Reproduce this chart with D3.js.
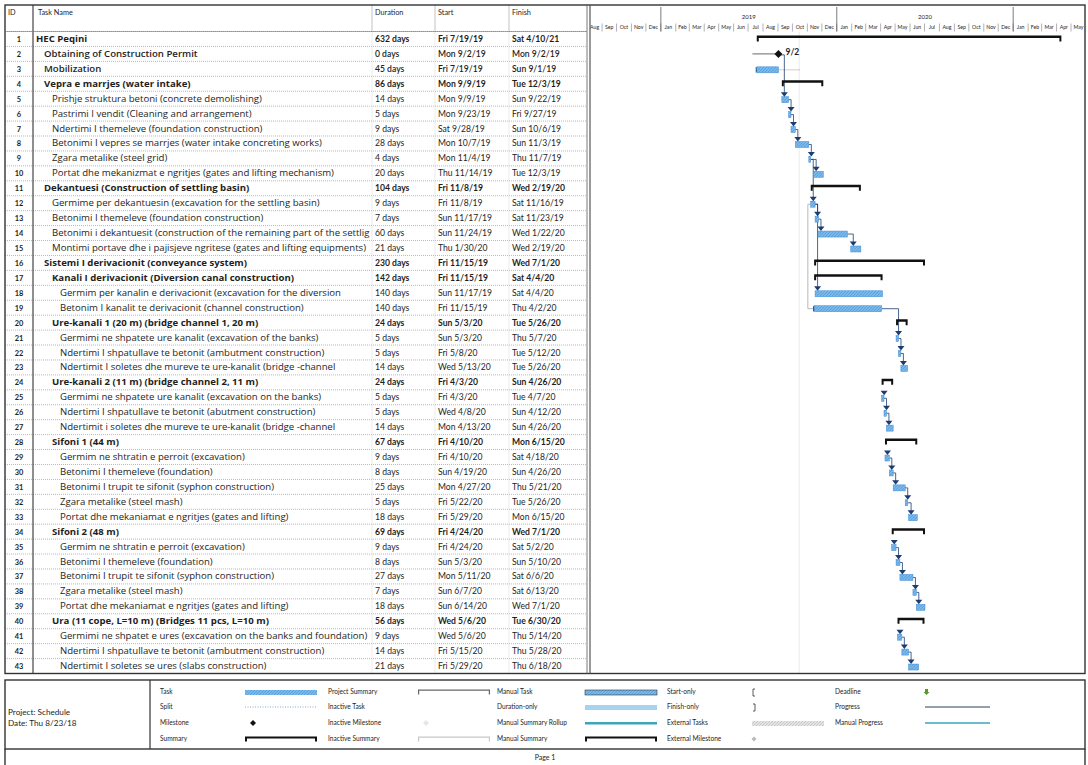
<!DOCTYPE html>
<html>
<head>
<meta charset="utf-8">
<script src="https://cdn.jsdelivr.net/npm/d3@7"></script>
<style>
  body { margin: 0; background: #fff; }
  svg text { font-family: Lato, "Open Sans", sans-serif; fill: #1e1e1e; }
  svg text.tname { font-family: "Open Sans", Lato, sans-serif; }
</style>
</head>
<body>
<svg id="chart" width="1088" height="765"></svg>
<script>
// MS Project print-out: HEC Peqini schedule (table + Gantt + legend)

const taskIds = d3.range(1, 44);

const taskNames = [
  "HEC Peqini",
  "Obtaining of Construction Permit",
  "Mobilization",
  "Vepra e marrjes (water intake)",
  "Prishje struktura betoni (concrete demolishing)",
  "Pastrimi I vendit (Cleaning and arrangement)",
  "Ndertimi I themeleve (foundation construction)",
  "Betonimi I vepres se marrjes (water intake concreting works)",
  "Zgara metalike (steel grid)",
  "Portat dhe mekanizmat e ngritjes (gates and lifting mechanism)",
  "Dekantuesi (Construction of settling basin)",
  "Germime per dekantuesin (excavation for the settling basin)",
  "Betonimi I themeleve (foundation construction)",
  "Betonimi i dekantuesit (construction of the remaining part of the settlig",
  "Montimi portave dhe i pajisjeve ngritese (gates and lifting equipments)",
  "Sistemi I derivacionit (conveyance system)",
  "Kanali I derivacionit (Diversion canal construction)",
  "Germim per kanalin e derivacionit (excavation for the diversion",
  "Betonim I kanalit te derivacionit (channel construction)",
  "Ure-kanali 1 (20 m) (bridge channel 1, 20 m)",
  "Germimi ne shpatete ure kanalit (excavation of the banks)",
  "Ndertimi I shpatullave te betonit (ambutment construction)",
  "Ndertimit I soletes dhe mureve te ure-kanalit (bridge -channel",
  "Ure-kanali 2 (11 m) (bridge channel 2, 11 m)",
  "Germimi ne shpatete ure kanalit (excavation on the banks)",
  "Ndertimi I shpatullave te betonit (abutment construction)",
  "Ndertimit i soletes dhe mureve te ure-kanalit (bridge -channel",
  "Sifoni 1 (44 m)",
  "Germim ne shtratin e perroit (excavation)",
  "Betonimi I themeleve (foundation)",
  "Betonimi I trupit te sifonit (syphon construction)",
  "Zgara metalike (steel mash)",
  "Portat dhe mekaniamat e ngritjes (gates and lifting)",
  "Sifoni 2 (48 m)",
  "Germim ne shtratin e perroit (excavation)",
  "Betonimi I themeleve (foundation)",
  "Betonimi I trupit te sifonit (syphon construction)",
  "Zgara metalike (steel mash)",
  "Portat dhe mekaniamat e ngritjes (gates and lifting)",
  "Ura (11 cope, L=10 m) (Bridges 11 pcs, L=10 m)",
  "Germimi ne shpatet e ures (excavation on the banks and foundation)",
  "Ndertimi I shpatullave te betonit (ambutment construction)",
  "Ndertimit I soletes se ures (slabs construction)"
];

const durations = [
  "632 days", "0 days", "45 days", "86 days", "14 days", "5 days", "9 days", "28 days",
  "4 days", "20 days", "104 days", "9 days", "7 days", "60 days", "21 days", "230 days",
  "142 days", "140 days", "140 days", "24 days", "5 days", "5 days", "14 days", "24 days",
  "5 days", "5 days", "14 days", "67 days", "9 days", "8 days", "25 days", "5 days",
  "18 days", "69 days", "9 days", "8 days", "27 days", "7 days", "18 days", "56 days",
  "9 days", "14 days", "21 days"
];

const startDates = [
  "Fri 7/19/19", "Mon 9/2/19", "Fri 7/19/19", "Mon 9/9/19", "Mon 9/9/19", "Mon 9/23/19",
  "Sat 9/28/19", "Mon 10/7/19", "Mon 11/4/19", "Thu 11/14/19", "Fri 11/8/19", "Fri 11/8/19",
  "Sun 11/17/19", "Sun 11/24/19", "Thu 1/30/20", "Fri 11/15/19", "Fri 11/15/19", "Sun 11/17/19",
  "Fri 11/15/19", "Sun 5/3/20", "Sun 5/3/20", "Fri 5/8/20", "Wed 5/13/20", "Fri 4/3/20",
  "Fri 4/3/20", "Wed 4/8/20", "Mon 4/13/20", "Fri 4/10/20", "Fri 4/10/20", "Sun 4/19/20",
  "Mon 4/27/20", "Fri 5/22/20", "Fri 5/29/20", "Fri 4/24/20", "Fri 4/24/20", "Sun 5/3/20",
  "Mon 5/11/20", "Sun 6/7/20", "Sun 6/14/20", "Wed 5/6/20", "Wed 5/6/20", "Fri 5/15/20",
  "Fri 5/29/20"
];

const finishDates = [
  "Sat 4/10/21", "Mon 9/2/19", "Sun 9/1/19", "Tue 12/3/19", "Sun 9/22/19", "Fri 9/27/19",
  "Sun 10/6/19", "Sun 11/3/19", "Thu 11/7/19", "Tue 12/3/19", "Wed 2/19/20", "Sat 11/16/19",
  "Sat 11/23/19", "Wed 1/22/20", "Wed 2/19/20", "Wed 7/1/20", "Sat 4/4/20", "Sat 4/4/20",
  "Thu 4/2/20", "Tue 5/26/20", "Thu 5/7/20", "Tue 5/12/20", "Tue 5/26/20", "Sun 4/26/20",
  "Tue 4/7/20", "Sun 4/12/20", "Sun 4/26/20", "Mon 6/15/20", "Sat 4/18/20", "Sun 4/26/20",
  "Thu 5/21/20", "Tue 5/26/20", "Mon 6/15/20", "Wed 7/1/20", "Sat 5/2/20", "Sun 5/10/20",
  "Sat 6/6/20", "Sat 6/13/20", "Wed 7/1/20", "Tue 6/30/20", "Thu 5/14/20", "Thu 5/28/20",
  "Thu 6/18/20"
];

// outline level of each row
const outlineLevels = [
  0, 1, 1, 1, 2, 2, 2, 2, 2, 2, 1, 2, 2, 2, 2, 1, 2, 3, 3, 2, 3, 3,
  3, 2, 3, 3, 3, 2, 3, 3, 3, 3, 3, 2, 3, 3, 3, 3, 3, 2, 3, 3, 3
];

// S = summary, T = task, M = milestone
const taskKinds = [
  "S", "M", "T", "S", "T", "T", "T", "T", "T", "T", "S", "T", "T", "T", "T", "S", "S", "T", "T", "S", "T", "T",
  "T", "S", "T", "T", "T", "S", "T", "T", "T", "T", "T", "S", "T", "T", "T", "T", "T", "S", "T", "T", "T"
];

// finish-to-start links drawn in the Gantt
const taskLinks = [
  [2, 5], [5, 6], [6, 7], [7, 8], [8, 9], [9, 10], [9, 12], [12, 13], [13, 14], [14, 15],
  [12, 18], [19, 21], [21, 22], [22, 23], [25, 26], [26, 27], [29, 30], [30, 31], [31, 32],
  [32, 33], [35, 36], [36, 37], [37, 38], [38, 39], [41, 42], [42, 43]
];

const tableColumns = ["ID", "Task Name", "Duration", "Start", "Finish"];

const legendLabels = [
  ["Task", "Split", "Milestone", "Summary"],
  ["Project Summary", "Inactive Task", "Inactive Milestone", "Inactive Summary"],
  ["Manual Task", "Duration-only", "Manual Summary Rollup", "Manual Summary"],
  ["Start-only", "Finish-only", "External Tasks", "External Milestone"],
  ["Deadline", "Progress", "Manual Progress"]
];

// ---------------------------------------------------------------------------
const svg = d3.select("#chart");
const parseDay = d3.timeParse("%m/%d/%y");
const dateOf = s => parseDay(s.split(" ")[1]);

const frameL = 5, frameR = 1085, frameT = 5;
const headBottom = 31.5;
const tableBottom = 673.5;
const colX = { id: 5, name: 33, dur: 372, start: 435, finish: 509, gantt: 589 };

const NAVY = "#1d3d70";
const BAR = "#7ab8ea";
const BAR_EDGE = "#3f8cd4";

const rows = taskIds.map((id, i) => ({
  id,
  name: taskNames[i],
  dur: durations[i],
  start: startDates[i],
  finish: finishDates[i],
  level: outlineLevels[i],
  kind: taskKinds[i],
  s: dateOf(startDates[i]),
  e: d3.timeDay.offset(dateOf(finishDates[i]), 1)
}));
const byId = new Map(rows.map(r => [r.id, r]));

const y = d3.scaleBand().domain(taskIds).range([headBottom, tableBottom]);
const rowH = y.bandwidth();
const cy = id => y(id) + rowH / 2;

const x = d3.scaleTime()
  .domain([new Date(2018, 7, 7), new Date(2021, 4, 30)])
  .range([colX.gantt + 1, frameR]);

// hatch pattern for task bars
const defs = svg.append("defs");
const pat = defs.append("pattern")
  .attr("id", "hatch").attr("patternUnits", "userSpaceOnUse")
  .attr("width", 3).attr("height", 3);
pat.append("rect").attr("width", 3).attr("height", 3).attr("fill", BAR);
pat.append("path").attr("d", "M0,3 L3,0").attr("stroke", "#4b9ae0").attr("stroke-width", 0.7);

const pat2 = defs.append("pattern")
  .attr("id", "hatchGray").attr("patternUnits", "userSpaceOnUse")
  .attr("width", 3).attr("height", 3);
pat2.append("rect").attr("width", 3).attr("height", 3).attr("fill", "#e4e4e4");
pat2.append("path").attr("d", "M0,3 L3,0").attr("stroke", "#bdbdbd").attr("stroke-width", 0.7);

defs.append("clipPath").attr("id", "ganttClip")
  .append("rect")
  .attr("x", colX.gantt + 1).attr("y", frameT)
  .attr("width", frameR - colX.gantt - 1).attr("height", tableBottom - frameT);

defs.append("clipPath").attr("id", "nameClip")
  .append("rect")
  .attr("x", colX.name).attr("y", frameT)
  .attr("width", colX.dur - colX.name - 1).attr("height", tableBottom - frameT);

// ── TABLE ─────────────────────────────────────────────────────────────────
const table = svg.append("g");

// row separators (dotted)
table.selectAll(".rowline")
  .data(taskIds)
  .join("line")
  .attr("x1", frameL).attr("x2", colX.gantt - 3)
  .attr("y1", d => y(d)).attr("y2", d => y(d))
  .attr("stroke", "#8a8a8a").attr("stroke-width", 0.6)
  .attr("stroke-dasharray", "1,1");

// column separators
[colX.dur, colX.start, colX.finish].forEach(cx0 => {
  table.append("line")
    .attr("x1", cx0).attr("x2", cx0).attr("y1", frameT).attr("y2", headBottom)
    .attr("stroke", "#9a9a9a").attr("stroke-width", 0.6);
  table.append("line")
    .attr("x1", cx0).attr("x2", cx0).attr("y1", headBottom).attr("y2", tableBottom)
    .attr("stroke", "#d6d6d6").attr("stroke-width", 0.5);
});

// ID column box
table.append("line")
  .attr("x1", colX.name).attr("x2", colX.name).attr("y1", frameT).attr("y2", tableBottom)
  .attr("stroke", "#444").attr("stroke-width", 1.2);

// header texts
const headX = [8, 38, colX.dur + 3, colX.start + 3, colX.finish + 3];
table.selectAll(".head")
  .data(tableColumns)
  .join("text")
  .attr("x", (d, i) => headX[i]).attr("y", 15)
  .style("font-size", "7.3px")
  .text(d => d);

// body texts
const weightOf = d => d.kind === "S" ? "bold" : (d.id <= 3 ? 600 : "normal");
const baseY = d => cy(d.id) + 3;

table.append("g")
  .selectAll("text")
  .data(rows)
  .join("text")
  .attr("x", (colX.id + colX.name) / 2)
  .attr("y", baseY)
  .attr("text-anchor", "middle")
  .style("font-size", "7.4px")
  .style("font-weight", "bold")
  .text(d => d.id);

table.append("g")
  .attr("clip-path", "url(#nameClip)")
  .selectAll("text")
  .data(rows)
  .join("text")
  .attr("class", "tname")
  .attr("x", d => 36 + d.level * 8)
  .attr("y", baseY)
  .style("font-size", "9.6px")
  .style("font-weight", weightOf)
  .text(d => d.name);

[["dur", colX.dur], ["start", colX.start], ["finish", colX.finish]].forEach(([key, cx0]) => {
  table.append("g")
    .selectAll("text")
    .data(rows)
    .join("text")
    .attr("x", cx0 + 3)
    .attr("y", baseY)
    .style("font-size", "8.6px")
    .style("font-weight", weightOf)
    .text(d => d[key]);
});

// ── TIMESCALE ─────────────────────────────────────────────────────────────
const scale = svg.append("g").attr("clip-path", "url(#ganttClip)");

const months = d3.timeMonth.range(d3.timeMonth.floor(x.domain()[0]), x.domain()[1]);
scale.selectAll(".mtick")
  .data(months)
  .join("line")
  .attr("x1", d => x(d)).attr("x2", d => x(d))
  .attr("y1", 23.5).attr("y2", headBottom)
  .attr("stroke", "#666").attr("stroke-width", 0.5);

scale.selectAll(".mlabel")
  .data(months)
  .join("text")
  .attr("x", d => (x(d) + x(d3.timeMonth.offset(d, 1))) / 2)
  .attr("y", 29)
  .attr("text-anchor", "middle")
  .style("font-size", "5.2px")
  .text(d3.timeFormat("%b"));

const years = d3.timeYear.range(d3.timeYear.floor(x.domain()[0]), x.domain()[1]);
scale.selectAll(".ytick")
  .data(years.filter(d => x(d) > colX.gantt))
  .join("line")
  .attr("x1", d => x(d)).attr("x2", d => x(d))
  .attr("y1", 7).attr("y2", headBottom)
  .attr("stroke", "#444").attr("stroke-width", 0.7);

scale.selectAll(".ylabel")
  .data(years.filter(d => {
    const m = (x(d) + x(d3.timeYear.offset(d, 1))) / 2;
    return m > colX.gantt + 10 && m < frameR - 10;
  }))
  .join("text")
  .attr("x", d => (x(d) + x(d3.timeYear.offset(d, 1))) / 2)
  .attr("y", 19)
  .attr("text-anchor", "middle")
  .style("font-size", "6px")
  .text(d3.timeFormat("%Y"));

// ── GANTT ─────────────────────────────────────────────────────────────────
const gantt = svg.append("g").attr("clip-path", "url(#ganttClip)");

// faint status line
gantt.append("line")
  .attr("x1", x(new Date(2019, 9, 15))).attr("x2", x(new Date(2019, 9, 15)))
  .attr("y1", headBottom).attr("y2", tableBottom)
  .attr("stroke", "#dfe6ee").attr("stroke-width", 0.8);

// start-to-start style connectors with right-pointing arrows
const r12 = byId.get(12), r19 = byId.get(19);
const ssX = x(d3.timeDay.offset(r12.s, -6));
gantt.append("path")
  .attr("d", `M${x(r12.s)},${cy(12) + 1}H${ssX}V${cy(19) + 1}H${x(r19.s)}`)
  .attr("fill", "none").attr("stroke", "#a8a8a8").attr("stroke-width", 0.8);
gantt.append("path")
  .attr("d", `M${x(r19.s) + 3},${cy(19) + 1}l-4,-3v6z`)
  .attr("fill", NAVY);

const r3 = byId.get(3);
gantt.append("path")
  .attr("d", `M${x(r3.s) + 3},${cy(3) + 1}l-4,-3v6z`)
  .attr("fill", NAVY);
gantt.append("line")
  .attr("x1", x(r3.e)).attr("x2", x(d3.timeDay.offset(r3.e, 45)))
  .attr("y1", cy(3) + 1).attr("y2", cy(3) + 1)
  .attr("stroke", "#d99a9a").attr("stroke-width", 0.6);
gantt.append("line")
  .attr("x1", x(d3.timeDay.offset(r3.s, -9))).attr("x2", x(byId.get(2).s))
  .attr("y1", cy(2)).attr("y2", cy(2))
  .attr("stroke", "#444").attr("stroke-width", 0.8);

// link lines
gantt.selectAll(".link")
  .data(taskLinks)
  .join("path")
  .attr("d", ([a, b]) => {
    const p = byId.get(a), s = byId.get(b);
    const xe = p.kind === "M" ? x(p.s) + 1 : x(p.e);
    const xa = Math.max(x(s.s) + 2.5, xe + 2);
    return `M${xe},${cy(a) + 1}H${xa}V${cy(b) - 5}`;
  })
  .attr("fill", "none")
  .attr("stroke", NAVY).attr("stroke-width", 0.8);

// summary bars
const sums = rows.filter(r => r.kind === "S");
gantt.selectAll(".sumbar")
  .data(sums)
  .join("path")
  .attr("d", d => {
    const x0 = x(d.s), x1 = x(d.e), c = cy(d.id);
    return `M${x0},${c - 3.5}H${x1}V${c + 2.5}H${x1 - 2}V${c - 1}H${x0 + 2}V${c + 2.5}H${x0}Z`;
  })
  .attr("fill", "#111");

// task bars
const tasks = rows.filter(r => r.kind === "T");
gantt.selectAll(".taskbar")
  .data(tasks)
  .join("rect")
  .attr("x", d => x(d.s))
  .attr("y", d => cy(d.id) - 2)
  .attr("width", d => x(d.e) - x(d.s))
  .attr("height", 6)
  .attr("fill", "url(#hatch)")
  .attr("stroke", BAR_EDGE).attr("stroke-width", 0.5);

// arrowheads above task starts
gantt.selectAll(".arrow")
  .data(tasks.filter(d => d.id !== 3 && d.id !== 19))
  .join("path")
  .attr("d", d => {
    const xa = x(d.s) + 2.5, c = cy(d.id);
    return `M${xa - 3.5},${c - 6.5}H${xa + 3.5}L${xa},${c - 2}Z`;
  })
  .attr("fill", NAVY);

// milestone
const ms = rows.filter(r => r.kind === "M");
gantt.selectAll(".ms")
  .data(ms)
  .join("path")
  .attr("d", d => {
    const mx = x(d.s), c = cy(d.id);
    return `M${mx},${c - 4}L${mx + 4},${c}L${mx},${c + 4}L${mx - 4},${c}Z`;
  })
  .attr("fill", "#111");
gantt.selectAll(".mslabel")
  .data(ms)
  .join("text")
  .attr("x", d => x(d.s) + 7).attr("y", d => cy(d.id) + 1)
  .style("font-size", "8.5px").style("font-weight", "bold")
  .text(d => d3.timeFormat("%-m/%-d")(d.s));

// ── FRAMES ────────────────────────────────────────────────────────────────
svg.append("rect")
  .attr("x", frameL).attr("y", frameT)
  .attr("width", frameR - frameL).attr("height", tableBottom - frameT)
  .attr("fill", "none").attr("stroke", "#333").attr("stroke-width", 1.4);
svg.append("line")
  .attr("x1", colX.gantt - 2).attr("x2", colX.gantt - 2).attr("y1", frameT).attr("y2", tableBottom)
  .attr("stroke", "#555").attr("stroke-width", 0.8);
svg.append("line")
  .attr("x1", colX.gantt + 1).attr("x2", colX.gantt + 1).attr("y1", frameT).attr("y2", tableBottom)
  .attr("stroke", "#555").attr("stroke-width", 1.2);
svg.append("line")
  .attr("x1", frameL).attr("x2", colX.gantt - 2).attr("y1", headBottom).attr("y2", headBottom)
  .attr("stroke", "#777").attr("stroke-width", 0.6);

// ── LEGEND ────────────────────────────────────────────────────────────────
const legTop = 680, legBottom = 749;
svg.append("rect")
  .attr("x", frameL).attr("y", legTop)
  .attr("width", frameR - frameL).attr("height", legBottom - legTop)
  .attr("fill", "none").attr("stroke", "#333").attr("stroke-width", 1.4);
svg.append("line")
  .attr("x1", 150).attr("x2", 150).attr("y1", legTop).attr("y2", legBottom)
  .attr("stroke", "#333").attr("stroke-width", 1.2);
svg.append("line")
  .attr("x1", frameL).attr("x2", frameL).attr("y1", legBottom).attr("y2", 765)
  .attr("stroke", "#333").attr("stroke-width", 1.4);
svg.append("line")
  .attr("x1", frameR).attr("x2", frameR).attr("y1", legBottom).attr("y2", 765)
  .attr("stroke", "#333").attr("stroke-width", 1.4);

svg.append("text").attr("x", 8).attr("y", 715)
  .style("font-size", "8.2px").text("Project: Schedule");
svg.append("text").attr("x", 8).attr("y", 726)
  .style("font-size", "8.2px").text("Date: Thu 8/23/18");

svg.append("text").attr("x", 545).attr("y", 760).attr("text-anchor", "middle")
  .style("font-size", "7px").text("Page 1");

const legLabelX = [160, 328, 497, 667, 835];
const legSymX = [245, 418, 585, 752, 925];
const legRowY = [692, 707, 723, 739];
const symW = 72;

const leg = svg.append("g");
legendLabels.forEach((col, ci) => {
  col.forEach((lab, ri) => {
    leg.append("text")
      .attr("x", legLabelX[ci]).attr("y", legRowY[ri] + 2)
      .style("font-size", "6.6px")
      .text(lab);
  });
});

function symbol(ci, ri) {
  const sx = legSymX[ci], sy = legRowY[ri], g = leg.append("g");
  const key = legendLabels[ci][ri];
  const bracket = (col, w) => g.append("path")
    .attr("d", `M${sx},${sy - 2.5}H${sx + symW}V${sy + 2.5}H${sx + symW - w}V${sy - 2.5 + w}H${sx + w}V${sy + 2.5}H${sx}Z`)
    .attr("fill", col);
  if (key === "Task") {
    g.append("rect").attr("x", sx).attr("y", sy - 2).attr("width", symW).attr("height", 5)
      .attr("fill", "url(#hatch)");
  } else if (key === "Split") {
    g.append("line").attr("x1", sx).attr("x2", sx + symW).attr("y1", sy).attr("y2", sy)
      .attr("stroke", "#8aa6c4").attr("stroke-width", 1.2).attr("stroke-dasharray", "1,1.5");
  } else if (key === "Milestone") {
    g.append("path").attr("d", `M${sx + 8},${sy - 3}l3,3l-3,3l-3,-3z`).attr("fill", "#111");
  } else if (key === "Summary" || key === "Manual Summary") {
    bracket("#111", 2);
  } else if (key === "Project Summary") {
    bracket("#666", 1.2);
  } else if (key === "Inactive Milestone") {
    g.append("path").attr("d", `M${sx + 8},${sy - 3}l3,3l-3,3l-3,-3z`).attr("fill", "#e6e6e6");
  } else if (key === "Inactive Summary") {
    bracket("#c8c8c8", 1.2);
  } else if (key === "Manual Task") {
    g.append("rect").attr("x", sx).attr("y", sy - 2).attr("width", symW).attr("height", 5)
      .attr("fill", "url(#hatch)").attr("stroke", "#333").attr("stroke-width", 0.6);
  } else if (key === "Duration-only") {
    g.append("rect").attr("x", sx).attr("y", sy - 2).attr("width", symW).attr("height", 5)
      .attr("fill", "#a6d4f0");
  } else if (key === "Manual Summary Rollup") {
    g.append("rect").attr("x", sx).attr("y", sy - 1).attr("width", symW).attr("height", 2.5)
      .attr("fill", "#3aa6b8");
  } else if (key === "Start-only") {
    g.append("path").attr("d", `M${sx + 3},${sy - 3}h-2v7h2`).attr("fill", "none")
      .attr("stroke", "#333").attr("stroke-width", 0.8);
  } else if (key === "Finish-only") {
    g.append("path").attr("d", `M${sx + 1},${sy - 3}h2v7h-2`).attr("fill", "none")
      .attr("stroke", "#333").attr("stroke-width", 0.8);
  } else if (key === "External Tasks") {
    g.append("rect").attr("x", sx).attr("y", sy - 2).attr("width", symW).attr("height", 5)
      .attr("fill", "url(#hatchGray)");
  } else if (key === "External Milestone") {
    g.append("path").attr("d", `M${sx + 2},${sy - 2.5}l2.5,2.5l-2.5,2.5l-2.5,-2.5z`).attr("fill", "#bbb");
  } else if (key === "Deadline") {
    g.append("path").attr("d", `M${sx},${sy - 3}h3v3h1.5l-3,3l-3,-3h1.5z`).attr("fill", "#5a9a2a");
  } else if (key === "Progress") {
    g.append("line").attr("x1", sx).attr("x2", sx + 65).attr("y1", sy).attr("y2", sy)
      .attr("stroke", "#27405e").attr("stroke-width", 1);
  } else if (key === "Manual Progress") {
    g.append("line").attr("x1", sx).attr("x2", sx + 65).attr("y1", sy).attr("y2", sy)
      .attr("stroke", "#3aa6b8").attr("stroke-width", 1.4);
  }
}
legendLabels.forEach((col, ci) => col.forEach((lab, ri) => symbol(ci, ri)));
</script>
</body>
</html>
